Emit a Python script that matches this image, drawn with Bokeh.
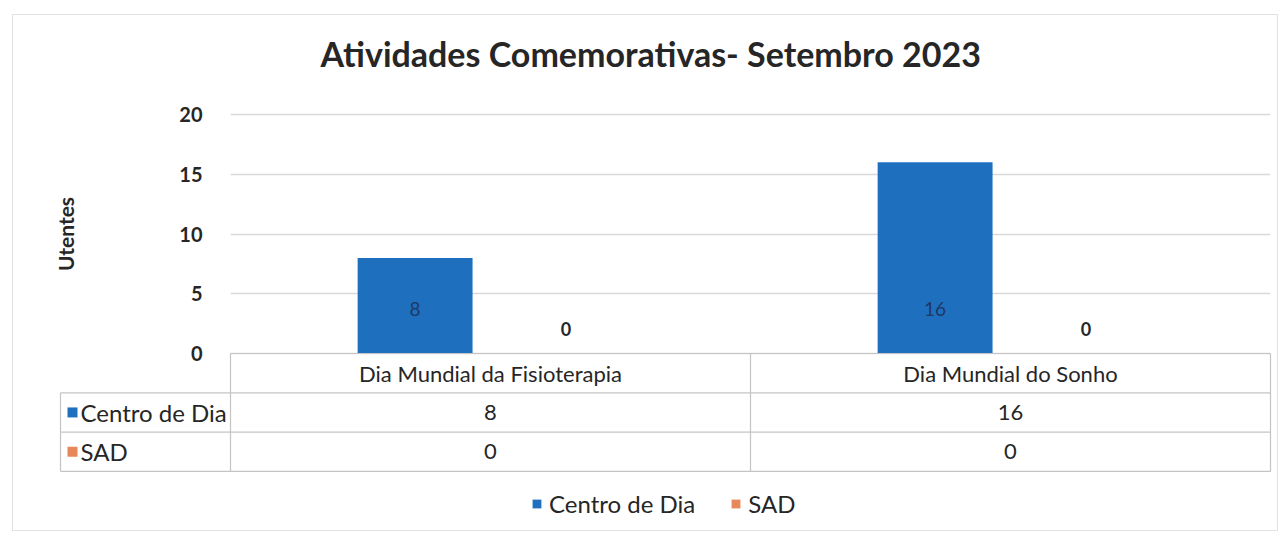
import math
from bokeh.plotting import figure
from bokeh.models import (FactorRange, Range1d, FixedTicker, ColumnDataSource,
                          Legend, LegendItem)
from bokeh.layouts import column
from bokeh.transform import dodge
from bokeh.core.properties import value
from bokeh.embed import file_html
from bokeh.resources import INLINE

# ---------------- data ----------------
categories = ["Dia Mundial da Fisioterapia", "Dia Mundial do Sonho"]
series_names = ["Centro de Dia", "SAD"]
centro_de_dia = [8, 16]
sad = [0, 0]
y_ticks = [0, 5, 10, 15, 20]
title_text = "Atividades Comemorativas- Setembro 2023"
y_label = "Utentes"

# ---------------- style / geometry ----------------
FONT = "Lato"
BLUE = "#1E70BF"
ORANGE = "#E8875A"
GRID = "#d9d9d9"
TABLE_LINE = "#c4c4c4"
TEXT = "#262626"

W, H = 1264, 515
FRAME_LEFT = 217
FRAME_RIGHT_PAD = 7
FRAME_TOP = 63
FRAME_BOTTOM_PAD = 2
ZERO_PX = 338                  # y pixel (from top) of the value 0
PX_ZERO_TO_20 = 239
PX_Y = PX_ZERO_TO_20 / 20.0
y_end = (ZERO_PX - FRAME_TOP) / PX_Y
y_start = -(H - FRAME_BOTTOM_PAD - ZERO_PX) / PX_Y
frame_w = W - FRAME_LEFT - FRAME_RIGHT_PAD
PX_X = frame_w / len(categories)

# ---------------- chart ----------------
src = ColumnDataSource(dict(cat=categories, centro=centro_de_dia, sad=sad,
                            centro_txt=[str(v) for v in centro_de_dia],
                            sad_txt=[str(v) for v in sad]))

p = figure(width=W, height=H, x_range=FactorRange(*categories),
           y_range=Range1d(y_start, y_end), output_backend="svg",
           toolbar_location=None, min_border_left=FRAME_LEFT,
           min_border_right=FRAME_RIGHT_PAD, min_border_top=FRAME_TOP,
           min_border_bottom=FRAME_BOTTOM_PAD)
p.title.text = title_text
p.title.text_font = FONT
p.title.text_font_size = "34px"
p.title.text_font_style = "bold"
p.title.text_color = TEXT
p.title.align = "left"
p.title.offset = 90
p.outline_line_color = None
p.background_fill_color = "white"
p.border_fill_color = "white"

p.xaxis.visible = False
p.xgrid.grid_line_color = None
p.ygrid.grid_line_color = GRID
p.ygrid.grid_line_width = 1.5
p.yaxis.ticker = FixedTicker(ticks=y_ticks)
p.yaxis.axis_line_color = None
p.yaxis.major_tick_line_color = None
p.yaxis.minor_tick_line_color = None
p.yaxis.major_label_text_font = FONT
p.yaxis.major_label_text_font_size = "20px"
p.yaxis.major_label_text_font_style = "bold"
p.yaxis.major_label_text_color = TEXT
p.yaxis.major_label_standoff = 22

# y-axis title, centred on the 0..20 value span (left of the frame)
p.text(x=[-165 / PX_X], y=[(y_ticks[0] + y_ticks[-1]) / 2], text=[y_label],
       angle=math.pi / 2, text_align="center", text_baseline="middle",
       text_font=value(FONT), text_font_size="21px", text_font_style="bold",
       text_color=TEXT, level="overlay")

OFF = 0.145
BW = 0.221
b1 = p.vbar(x=dodge("cat", -OFF, range=p.x_range), top="centro", width=BW,
            source=src, fill_color=BLUE, line_color=None)
b2 = p.vbar(x=dodge("cat", OFF, range=p.x_range), top="sad", width=BW,
            source=src, fill_color=ORANGE, line_color=None)

p.text(x=dodge("cat", -OFF, range=p.x_range), y=0, text="centro_txt",
       source=src, text_align="center", text_baseline="middle",
       y_offset=-45, text_font=value(FONT), text_font_size="19px",
       text_color="#1f3864")
p.text(x=dodge("cat", OFF, range=p.x_range), y=0, text="sad_txt",
       source=src, text_align="center", text_baseline="middle",
       y_offset=-25, text_font=value(FONT), text_font_size="18px",
       text_font_style="bold", text_color=TEXT)

# ---------------- data table (below the plot area) ----------------
ROW_PX = 39.3
LEFT_COL_PX = 170
n = len(categories)
n_rows = 1 + len(series_names)
row_y = [-k * ROW_PX / PX_Y for k in range(n_rows + 1)]   # row boundaries
x_lab = -LEFT_COL_PX / PX_X

hx0 = [0] + [x_lab] * n_rows
hx1 = [n] * (n_rows + 1)
p.segment(x0=hx0, y0=row_y, x1=hx1, y1=row_y, line_color=TABLE_LINE,
          line_width=1.2, level="overlay")
vx = list(range(0, n + 1)) + [x_lab]
vy0 = [row_y[0]] * (n + 1) + [row_y[1]]
vy1 = [row_y[-1]] * (n + 2)
p.segment(x0=vx, y0=vy0, x1=vx, y1=vy1, line_color=TABLE_LINE,
          line_width=1.2, level="overlay")

mid = [(row_y[k] + row_y[k + 1]) / 2 for k in range(n_rows)]
cx = [i + 0.5 for i in range(n)]
TS = "22px"
LS = "24px"
p.text(x=cx, y=[mid[0]] * n, text=categories, text_align="center",
       text_baseline="middle", text_font=value(FONT), text_font_size=TS,
       text_color=TEXT, level="overlay")
p.text(x=cx, y=[mid[1]] * n, text=[str(v) for v in centro_de_dia],
       text_align="center", text_baseline="middle", text_font=value(FONT),
       text_font_size=TS, text_color=TEXT, level="overlay")
p.text(x=cx, y=[mid[2]] * n, text=[str(v) for v in sad],
       text_align="center", text_baseline="middle", text_font=value(FONT),
       text_font_size=TS, text_color=TEXT, level="overlay")

# legend keys in the table's row-label column (thick short segments)
KEY = 10
kx0 = x_lab + 7 / PX_X
kx1 = kx0 + KEY / PX_X
p.segment(x0=[kx0, kx0], y0=[mid[1], mid[2]], x1=[kx1, kx1],
          y1=[mid[1], mid[2]], line_color=[BLUE, ORANGE], line_width=KEY,
          line_cap="butt", level="overlay")
lab_x = x_lab + 20 / PX_X
p.text(x=[lab_x, lab_x], y=[mid[1], mid[2]], text=series_names,
       text_align="left", text_baseline="middle", text_font=value(FONT),
       text_font_size=LS, text_color=TEXT, level="overlay")

legend = Legend(items=[LegendItem(label=series_names[0], renderers=[b1]),
                       LegendItem(label=series_names[1], renderers=[b2])],
                orientation="horizontal", location=(301, 10),
                border_line_color=None, background_fill_alpha=0,
                label_text_font=FONT, label_text_font_size=LS,
                label_text_color=TEXT, glyph_width=11, glyph_height=11,
                label_standoff=7, spacing=35, padding=0, margin=0)
p.add_layout(legend)

layout = column(p, margin=(14, 0, 0, 12),
                styles={"border": "1px solid #e2e2e2"})

open("out.html", "w").write(file_html(layout, INLINE))
